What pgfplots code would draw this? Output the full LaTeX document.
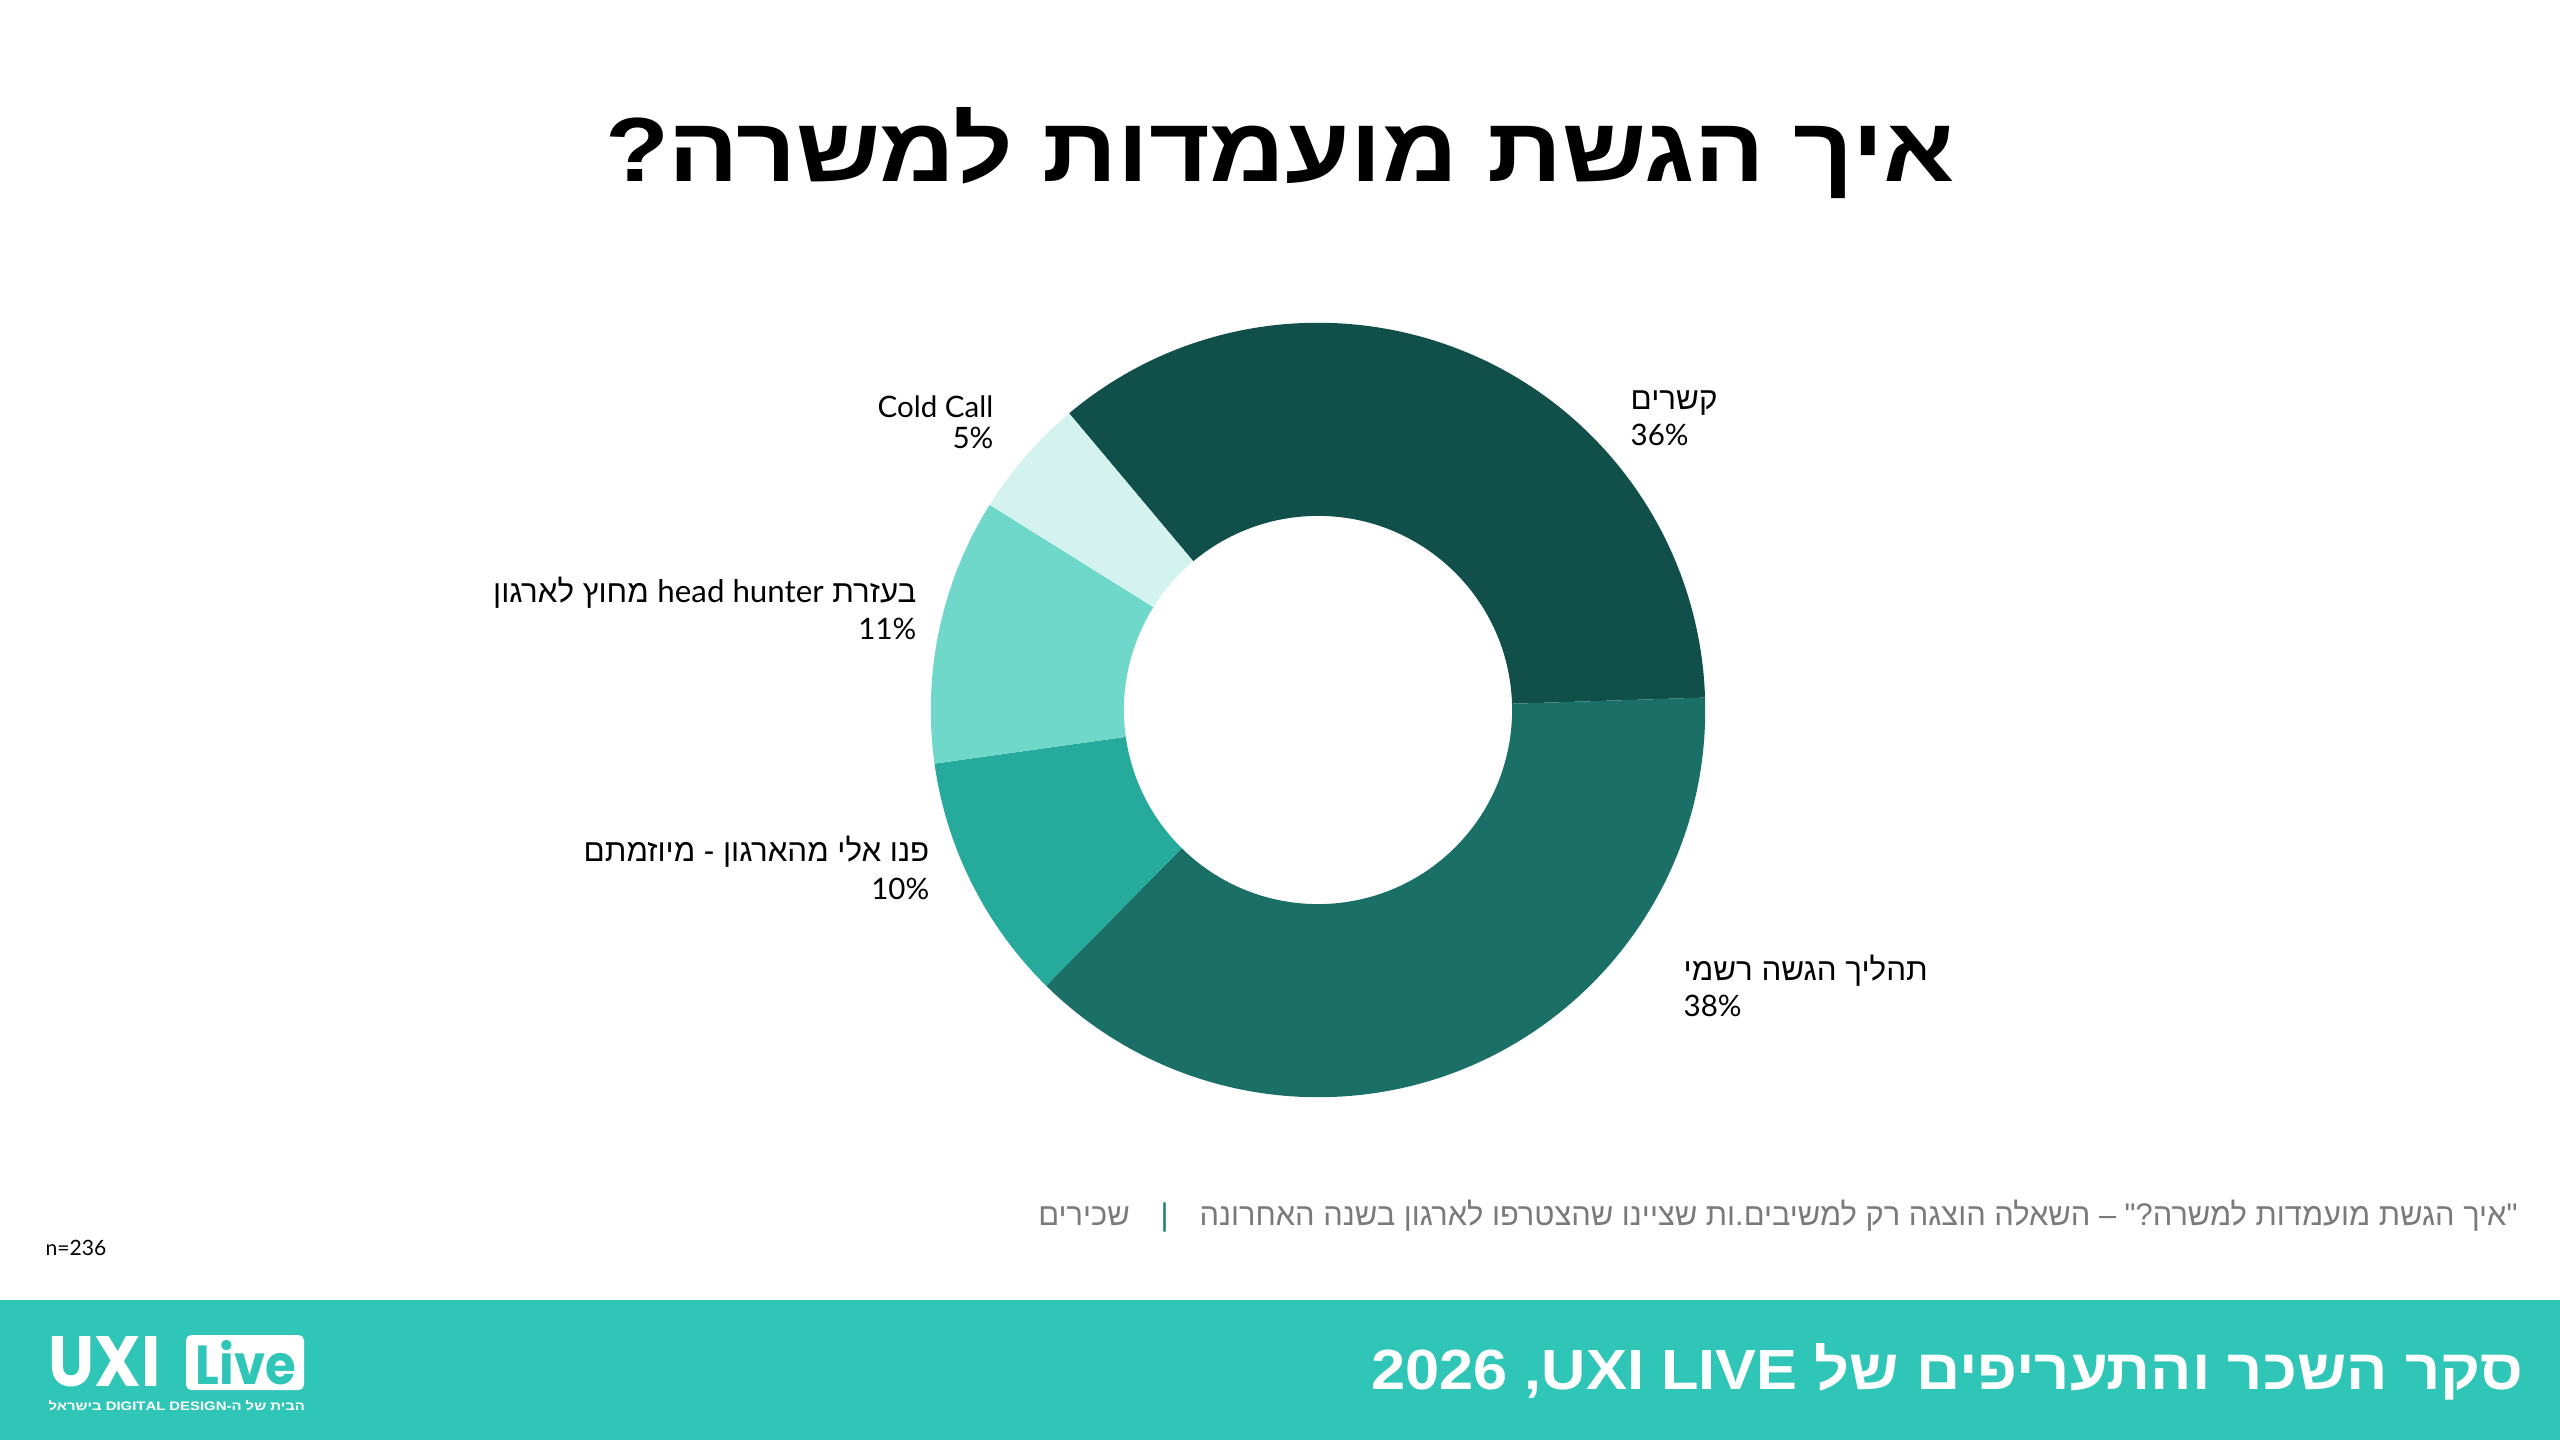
\documentclass[border=0pt]{standalone}
\usepackage{pgfplots}
\pgfplotsset{compat=1.18}
\usepackage{fontspec}
\usepackage{graphicx}
\setmainfont{Lato}
\newfontfamily\heb[Script=Hebrew]{Liberation Sans}
\newfontfamily\logo{Poppins}
\TeXXeTstate=1
\definecolor{cA}{HTML}{11504A}
\definecolor{cB}{HTML}{1A7066}
\definecolor{cC}{HTML}{25AA9C}
\definecolor{cD}{HTML}{70D8CA}
\definecolor{cE}{HTML}{D5F3EE}
\definecolor{foot}{HTML}{2FC5B7}
\definecolor{notegrey}{HTML}{7A7A7A}
\definecolor{sep}{HTML}{1A7F74}
% shares (percent), clockwise from 130 degrees
\def\vA{35.6}% קשרים
\def\vB{37.9}% תהליך הגשה רשמי
\def\vC{10.4}% פנו אלי מהארגון
\def\vD{11.1}% head hunter
\def\vE{5.0}% Cold Call
\pgfmathsetmacro\aA{130}
\pgfmathsetmacro\aB{\aA-3.6*\vA}
\pgfmathsetmacro\aC{\aB-3.6*\vB}
\pgfmathsetmacro\aD{\aC-3.6*\vC}
\pgfmathsetmacro\aE{\aD-3.6*\vD}
\pgfmathsetmacro\aF{\aE-3.6*\vE}
\newcommand\slice[3]{%
  \fill[#1] ([shift={(#2:3.87cm)}]axis cs:1318,730) arc[start angle=#2, end angle=#3, radius=3.87cm]
    -- ([shift={(#3:1.94cm)}]axis cs:1318,730) arc[start angle=#3, end angle=#2, radius=1.94cm] -- cycle;}
\newcommand\hlab{\heb\fontsize{8.9pt}{10pt}\selectfont}
\newcommand\nlab{\fontsize{8.4pt}{10pt}\selectfont}
\begin{document}
\begin{tikzpicture}
\begin{axis}[x=0.01cm, y=0.01cm, xmin=0, xmax=2560, ymin=0, ymax=1440,
  hide axis, clip=false, anchor=south west, at={(0,0)}, scale only axis]
\fill[white] (axis cs:0,0) rectangle (axis cs:2560,1440);
% donut
\slice{cA}{\aA}{\aB}
\slice{cB}{\aB}{\aC}
\slice{cC}{\aC}{\aD}
\slice{cD}{\aD}{\aE}
\slice{cE}{\aE}{\aF}
% title
\node[anchor=base, inner sep=0pt] at (axis cs:1280,1258)
  {\resizebox{13.49cm}{0.74cm}{\heb\bfseries\beginR איך הגשת מועמדות למשרה?\endR}};
% labels right
\node[anchor=base west, inner sep=0pt] at (axis cs:1630,1030) {\hlab\beginR קשרים\endR};
\node[anchor=base west, inner sep=0pt] at (axis cs:1630,994) {\nlab 36\%};
\node[anchor=base west, inner sep=0pt] at (axis cs:1683,460) {\hlab\beginR תהליך הגשה רשמי\endR};
\node[anchor=base west, inner sep=0pt] at (axis cs:1683,424) {\nlab 38\%};
% labels left
\node[anchor=base east, inner sep=0pt] at (axis cs:994,1022) {\nlab Cold Call};
\node[anchor=base east, inner sep=0pt] at (axis cs:994,991) {\nlab 5\%};
\node[anchor=base east, inner sep=0pt] at (axis cs:917,837)
  {\hlab\beginR בעזרת \beginL{\rmfamily\fontsize{8.9pt}{10pt}\selectfont head hunter}\endL{} מחוץ לארגון\endR};
\node[anchor=base east, inner sep=0pt] at (axis cs:917,800) {\nlab 11\%};
\node[anchor=base east, inner sep=0pt] at (axis cs:930,579) {\hlab\beginR פנו אלי מהארגון - מיוזמתם\endR};
\node[anchor=base east, inner sep=0pt] at (axis cs:930,540) {\nlab 10\%};
% note
\node[anchor=base east, inner sep=0pt] at (axis cs:2518,215)
  {\resizebox{14.78cm}{\height}{\heb\fontsize{8.9pt}{10pt}\selectfont{\color{notegrey}\beginR שכירים\endR}\quad{\color{sep}|}\quad{\color{notegrey}\beginR "איך הגשת מועמדות למשרה?" – השאלה הוצגה רק למשיבים.ות שציינו שהצטרפו לארגון בשנה האחרונה\endR}}};
\node[anchor=base west, inner sep=0pt] at (axis cs:45,185) {\fontsize{6pt}{7pt}\selectfont n=236};
% footer band
\fill[foot] (axis cs:0,0) rectangle (axis cs:2560,140);
\node[anchor=base east, inner sep=0pt, text=white] at (axis cs:2524,51)
  {\resizebox{11.51cm}{0.46cm}{\heb\bfseries 2026 ,UXI LIVE \beginR סקר השכר והתעריפים של\endR}};
% logo
\node[anchor=base west, inner sep=0pt, text=white] at (axis cs:48,54)
  {\resizebox{1.12cm}{0.50cm}{\logo\bfseries UXI}};
\fill[white, rounded corners=1.5pt] (axis cs:186,50) rectangle (axis cs:304,105);
\node[anchor=base west, inner sep=0pt, text=foot] at (axis cs:195,56)
  {\resizebox{1.00cm}{0.44cm}{\logo\bfseries Live}};
\node[anchor=base west, inner sep=0pt, text=white] at (axis cs:48,30)
  {\resizebox{2.56cm}{0.10cm}{\heb\bfseries\beginR הבית של ה-\beginL DIGITAL DESIGN\endL{} בישראל\endR}};
\end{axis}
\end{tikzpicture}
\end{document}
